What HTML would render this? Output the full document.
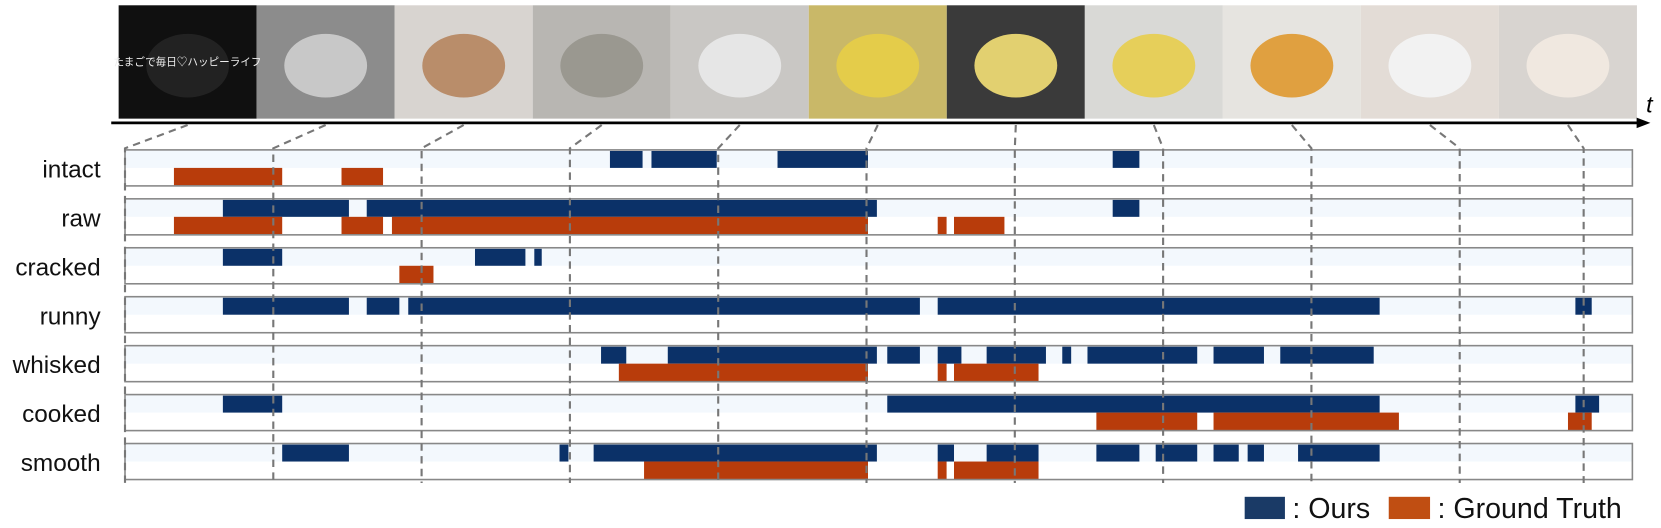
<!DOCTYPE html>
<html><head><meta charset="utf-8"><style>
body{margin:0;background:#fff;font-family:"Liberation Sans","Noto Sans CJK JP",sans-serif;}
svg{display:block}
</style></head><body>
<svg id="chart" width="1661" height="528" xmlns="http://www.w3.org/2000/svg"><g id="root" transform="scale(1.0593)"></g></svg>
<script>
const states = ["intact","raw","cracked","runny","whisked","cooked","smooth"];
const oursSegments = [
 [[327,349],[355,399],[440,501],[666,684]],
 [[66,151],[163,507],[666,684]],
 [[66,106],[236,270],[276,281]],
 [[66,151],[163,185],[191,536],[548,846],[978,989]],
 [[321,338],[366,507],[514,536],[548,564],[581,621],[632,638],[649,723],[734,768],[779,842]],
 [[66,106],[514,846],[978,994]],
 [[106,151],[293,299],[316,507],[548,559],[581,616],[655,684],[695,723],[734,751],[757,768],[791,846]]
];
const gtSegments = [
 [[33,106],[146,174]],
 [[33,106],[146,174],[180,501],[548,554],[559,593]],
 [[185,208]],
 [],
 [[333,501],[548,554],[559,616]],
 [[655,723],[734,859],[973,989]],
 [[350,501],[548,554],[559,616]]
];
const keyframeTimes = [0,100,200,300,400,500,600,700,800,900,1000];
const frameColors = ["#101010","#8c8c8c","#d8d4d0","#b8b6b2","#c9c7c4","#c9b868","#3a3a3a","#d9d9d6","#e6e4e0","#e3dcd6","#d8d4d0"];
const frameAccents = ["#222","#c8c8c8","#b98d6a","#9a9890","#e6e6e6","#e4cc4a","#e2d070","#e6cf5a","#e0a040","#f2f2f2","#f0e8e0"];

const NS="http://www.w3.org/2000/svg";
const svg=document.getElementById('root');
function el(tag,attrs,parent){const e=document.createElementNS(NS,tag);for(const k in attrs)e.setAttribute(k,attrs[k]);(parent||svg).appendChild(e);return e;}
const x0=118, x1=1541, scale=1.4;
function xs(t){return x0+t*scale;}
const rowTop=141.5, rowPitch=46.2, rowH=34;
function ys(i){return rowTop+i*rowPitch;}

// frames
const fw=130.3;
frameColors.forEach((c,k)=>{
  const fx=112+k*fw;
  const r=el('rect',{x:fx,y:5,width:fw,height:107,fill:c});
  
  
  const a=el('ellipse',{cx:fx+fw/2,cy:62,rx:fw*0.3,ry:30,fill:frameAccents[k]});
  
  
});
const ft=el('text',{x:177,y:62,fill:'#eee','font-size':10,'text-anchor':'middle'});
ft.textContent='たまごで毎日♡ハッピーライフ';



// timeline axis
const ax=el('line',{x1:105,y1:116,x2:1548,y2:116,stroke:'#000','stroke-width':2.5});


const ah=el('path',{d:'M1558 116 L1545 111 L1545 121 Z',fill:'#000'});


const tl=el('text',{x:1554,y:106,'font-size':22,'font-style':'italic',fill:'#000'});
tl.textContent='t';



// rows
states.forEach((s,i)=>{
  const y=ys(i);
  const bg=el('rect',{x:x0,y:y,width:x1-x0,height:rowH/2,fill:'#f3f8fd'});
  
  
  oursSegments[i].forEach(seg=>{
    const b=el('rect',{x:xs(seg[0]),y:y+1,width:(seg[1]-seg[0])*scale,height:rowH/2-1,fill:'#0b3168'});
    
    
  });
  gtSegments[i].forEach(seg=>{
    const b=el('rect',{x:xs(seg[0]),y:y+rowH/2,width:(seg[1]-seg[0])*scale,height:rowH/2-0.5,fill:'#b83c0b'});
    
    
  });
  const box=el('rect',{x:x0,y:y,width:x1-x0,height:rowH,fill:'none',stroke:'#888','stroke-width':1.5});
  
  
  const lab=el('text',{x:95,y:y+26,'font-size':23,'text-anchor':'end',fill:'#111'});
  lab.textContent=s;
  
  
});

// keyframe connectors
keyframeTimes.forEach((t,k)=>{
  const vx=xs(t)+(k===keyframeTimes.length-1?-23:0);
  const fx=112+k*fw+fw/2;
  const p=el('polyline',{points:`${fx},118 ${vx},140 ${vx},456`,fill:'none',stroke:'#777','stroke-width':2,'stroke-dasharray':'7,5'});
  
  
});

// legend
const lg=el('g',{});


const l1=el('rect',{x:1175,y:469,width:38,height:21,fill:'#1a3a66'},lg);


const t1=el('text',{x:1220,y:489,'font-size':27,fill:'#111'},lg);
t1.textContent=': Ours';


const l2=el('rect',{x:1311,y:469,width:39,height:21,fill:'#c04e12'},lg);


const t2=el('text',{x:1357,y:489,'font-size':27,fill:'#111'},lg);
t2.textContent=': Ground Truth';


</script>
</body></html>
